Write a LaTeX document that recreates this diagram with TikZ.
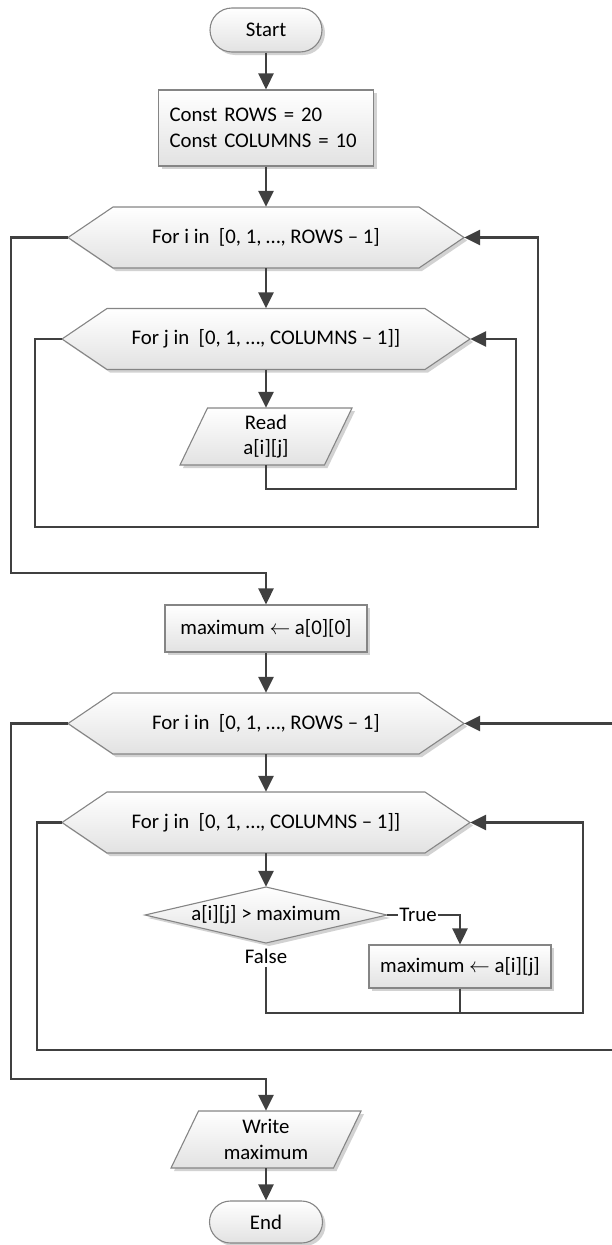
\documentclass[tikz,border=0pt]{standalone}
\usepackage{fontspec}
\setmainfont{Carlito}
\usetikzlibrary{arrows.meta,shadows,calc}
\definecolor{linecol}{HTML}{404040}
\definecolor{bordercol}{HTML}{858585}
\definecolor{fillbot}{HTML}{E2E2E2}
\newcommand\larr{\ensuremath{\leftarrow}}
\tikzset{
  every node/.style={font=\fontsize{20.8}{25.7}\selectfont},
  shapestyle/.style={draw=bordercol, line width=1.1pt, top color=white, bottom color=fillbot,
    drop shadow={shadow xshift=3pt, shadow yshift=-3pt, opacity=0.25, fill=black!70}},
  box/.style={shapestyle, rectangle, inner sep=0pt, align=center},
  lbl/.style={inner sep=0pt, align=center},
  conn/.style={line width=2.6pt, draw=linecol},
  arr/.style={conn, -{Triangle[length=16pt,width=15pt]}},
}
% name, cx, cy, half width, text
\newcommand\myhex[5]{%
  \path[shapestyle] (#2-#4,#3) -- (#2-#4+45,#3-30.5) -- (#2+#4-45,#3-30.5) -- (#2+#4,#3)
     -- (#2+#4-45,#3+30.5) -- (#2-#4+45,#3+30.5) -- cycle;
  \node[lbl, minimum width={2*#4*1pt}, minimum height=61pt] (#1) at (#2,#3) {#5};}
% name, cx, cy, width, text  (height 57, slant 27.5)
\newcommand\mypara[5]{%
  \path[shapestyle] (#2-#4/2,#3+28.5) -- (#2+#4/2-27.5,#3+28.5) -- (#2+#4/2,#3-28.5)
     -- (#2-#4/2+27.5,#3-28.5) -- cycle;
  \node[lbl, minimum width={#4*1pt}, minimum height=57pt] (#1) at (#2,#3) {#5};}
\begin{document}
\begin{tikzpicture}[x=1pt,y=-1pt]
\useasboundingbox (0,0) rectangle (611,1245);

\node[box, rounded corners=22pt, minimum width=112pt, minimum height=44pt] (start) at (266,30) {Start};
\node[box, minimum width=215pt, minimum height=76pt, text width=193pt, inner xsep=11pt, align=left] (const) at (266,128) {Const ROWS = 20\\Const COLUMNS = 10};

\myhex{h1}{266}{237.5}{198}{For i in~~[0, 1, …, ROWS – 1]}
\myhex{h2}{266}{339}{204}{For j in~~[0, 1, …, COLUMNS – 1]]}
\mypara{read}{266}{436.5}{172}{Read\\a[i][j]}

\node[box, minimum width=202pt, minimum height=47pt] (max1) at (266,628.5) {maximum \larr{} a[0][0]};

\myhex{h3}{266}{723.5}{198}{For i in~~[0, 1, …, ROWS – 1]}
\myhex{h4}{266}{822.5}{204}{For j in~~[0, 1, …, COLUMNS – 1]]}

\path[shapestyle] (145,915) -- (266,887) -- (387,915) -- (266,943) -- cycle;
\node[lbl, minimum width=242pt, minimum height=56pt] (dia) at (266,915) {a[i][j] > maximum};

\node[box, minimum width=182pt, minimum height=43pt] (max2) at (460,966.5) {maximum \larr{} a[i][j]};
\node[lbl, fill=white, inner xsep=1.5pt] (tru) at (418,915) {True};
\node[lbl, inner ysep=3pt] (fls) at (266,956) {False};

\mypara{write}{266}{1139.5}{190}{Write\\maximum}
\node[box, rounded corners=21pt, minimum width=113pt, minimum height=42pt] (end) at (266,1222) {End};

\coordinate (c1) at (516,489);
\coordinate (c2) at (35,527);
\coordinate (c3) at (538,527);
\coordinate (c4) at (11,573);
\coordinate (cf) at (583,1013);
\coordinate (cA) at (37,1050);
\coordinate (cB) at (615,1050);
\coordinate (cC) at (11,1079);

\draw[arr] (start) -- (const);
\draw[arr] (const) -- (h1);
\draw[arr] (h1) -- (h2);
\draw[arr] (h2) -- (read);
\draw[arr] (read.south) |- (c1) |- (h2.east);
\draw[arr] (h2.west) -| (c2) -- (c3) |- (h1.east);
\draw[arr] (h1.west) -| (c4) -| (max1.north);
\draw[arr] (max1) -- (h3);
\draw[arr] (h3) -- (h4);
\draw[arr] (h4) -- (dia);
\draw[conn] (dia.east) -- (tru.west);
\draw[arr] (tru.east) -| (max2.north);
\draw[arr] (fls.south) |- (cf) |- (h4.east);
\draw[conn] (max2.south) -- (max2.south |- cf);
\draw[arr] (h4.west) -| (cA) -- (cB) |- (h3.east);
\draw[arr] (h3.west) -| (cC) -| (write.north);
\draw[arr] (write) -- (end);
\end{tikzpicture}
\end{document}
